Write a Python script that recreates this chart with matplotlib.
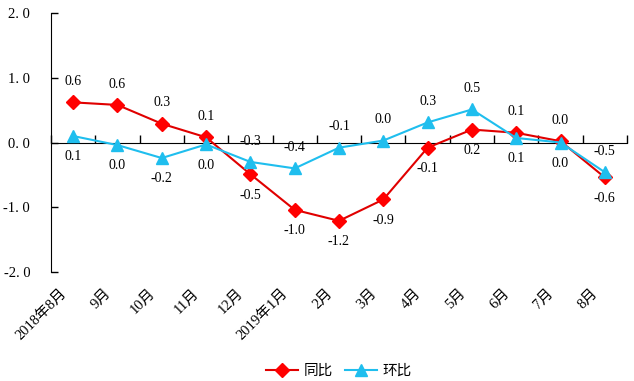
import numpy as np
import matplotlib
matplotlib.use("Agg")
import matplotlib.pyplot as plt

# data
months = ["2018年8月", "9月", "10月", "11月", "12月", "2019年1月", "2月",
          "3月", "4月", "5月", "6月", "7月", "8月"]
yoy = [0.62, 0.58, 0.29, 0.08, -0.49, -1.04, -1.21, -0.88, -0.08, 0.20, 0.15, 0.02, -0.54]
mom = [0.10, -0.04, -0.24, -0.03, -0.30, -0.40, -0.08, 0.03, 0.31, 0.51, 0.07, 0.00, -0.46]
yoy_labels = ["0.6", "0.6", "0.3", "0.1", "-0.5", "-1.0", "-1.2", "-0.9", "-0.1", "0.2", "0.1", "0.0", "-0.6"]
mom_labels = ["0.1", "0.0", "-0.2", "0.0", "-0.3", "-0.4", "-0.1", "0.0", "0.3", "0.5", "0.1", "0.0", "-0.5"]
# +1 label above the point, -1 below
yoy_side = [1, 1, 1, 1, -1, -1, -1, -1, -1, -1, 1, 1, -1]
mom_side = [-1, -1, -1, -1, 1, 1, 1, 1, 1, 1, -1, -1, 1]

red_line, red_mark = "#E00000", "#FF0000"
cyan = "#1FBEEE"
num_font = ["Liberation Serif", "Noto Sans CJK SC"]

fig = plt.figure(figsize=(6.34, 3.81), dpi=100)
ax = fig.add_axes([51 / 634, 1 - 272 / 381, (627 - 51) / 634, (272 - 13) / 381])

x = np.arange(len(months))
ax.plot(x, yoy, color=red_line, lw=1.5, marker="D", ms=7.5,
        mfc=red_mark, mec=red_mark, label="同比", zorder=3)
ax.plot(x, mom, color=cyan, lw=1.5, marker="^", ms=9,
        mfc=cyan, mec=cyan, label="环比", zorder=4)

for xs, vals, labs, sides in [(x, yoy, yoy_labels, yoy_side), (x, mom, mom_labels, mom_side)]:
    for xi, v, lab, s in zip(xs, vals, labs, sides):
        ax.annotate(lab, (xi, v), xytext=(0, 15 * s), textcoords="offset points",
                    ha="center", va="center", fontsize=10, family=num_font)

ax.set_xlim(-0.5, len(months) - 0.5)
ax.set_ylim(-2.0, 2.0)
ax.set_yticks([-2, -1, 0, 1, 2])
ax.set_yticklabels([f"{v:.1f}".replace(".", ". ") for v in [-2, -1, 0, 1, 2]],
                   family=num_font, fontsize=10.5)
ax.tick_params(axis="y", direction="in", length=5, width=1, pad=15)

ax.spines["top"].set_visible(False)
ax.spines["right"].set_visible(False)
ax.spines["bottom"].set_position(("data", 0))
ax.set_xticks(np.arange(-0.5, len(months), 1))
ax.set_xticklabels([])
ax.tick_params(axis="x", direction="in", length=6, width=1)

for xi, m in zip(x, months):
    ax.text(xi - 0.2, -2.3, m, rotation=45, rotation_mode="anchor",
            ha="right", va="center", fontsize=10.5, family=num_font, clip_on=False)

fig.legend(loc="center", bbox_to_anchor=(0.535, 0.026), ncol=2, frameon=False,
           prop={"family": ["Noto Sans CJK SC"], "size": 10.5},
           handlelength=2.2, columnspacing=0.8, handletextpad=0.4)

fig.savefig("out.png", dpi=100)
